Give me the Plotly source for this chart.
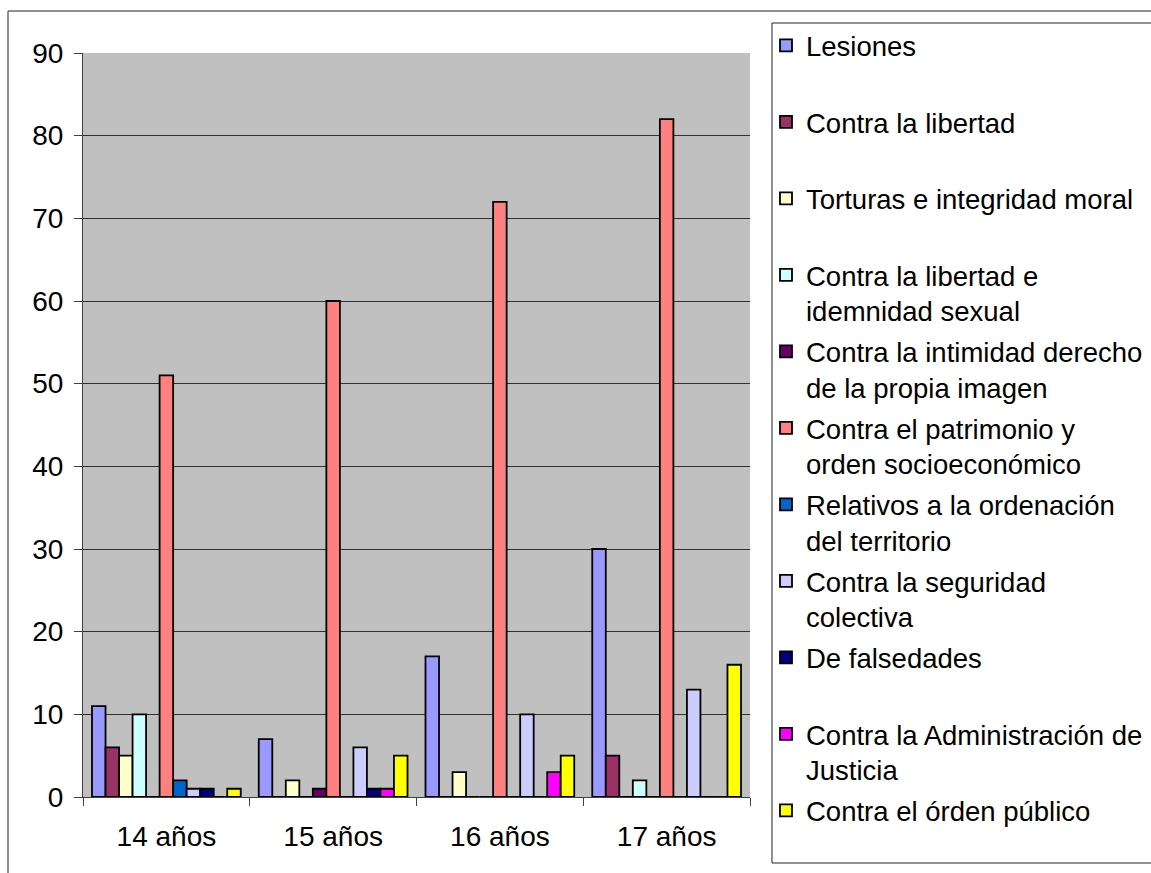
import plotly.graph_objects as go

categories = ["14 años", "15 años", "16 años", "17 años"]

series_names = [
    "Lesiones<br> ",
    "Contra la libertad<br> ",
    "Torturas e integridad moral<br> ",
    "Contra la libertad e<br>idemnidad sexual",
    "Contra la intimidad derecho<br>de la propia imagen",
    "Contra el patrimonio y<br>orden socioeconómico",
    "Relativos a la ordenación<br>del territorio",
    "Contra la seguridad<br>colectiva",
    "De falsedades<br> ",
    "Contra la Administración de<br>Justicia",
    "Contra el órden público<br> ",
]

lesiones = [11, 7, 17, 30]
contra_libertad = [6, 0, 0, 5]
torturas = [5, 2, 3, 0]
libertad_sexual = [10, 0, 0, 2]
intimidad = [0, 1, 0, 0]
patrimonio = [51, 60, 72, 82]
ordenacion_territorio = [2, 0, 0, 0]
seguridad_colectiva = [1, 6, 10, 13]
falsedades = [1, 1, 0, 0]
administracion_justicia = [0, 1, 3, 0]
orden_publico = [1, 5, 5, 16]

series_values = [
    lesiones, contra_libertad, torturas, libertad_sexual, intimidad,
    patrimonio, ordenacion_territorio, seguridad_colectiva, falsedades,
    administracion_justicia, orden_publico,
]

colors = [
    "#9999FF", "#993366", "#FFFFCC", "#CCFFFF", "#660066",
    "#FF8080", "#0066CC", "#CCCCFF", "#000080", "#FF00FF", "#FFFF00",
]

FONT = "Arial, 'Liberation Sans', sans-serif"
FS = 28
LFS = 27.5

fig = go.Figure()
for i, (name, vals, col) in enumerate(zip(series_names, series_values, colors)):
    fig.add_trace(go.Bar(
        x=categories, y=vals, name=name,
        marker=dict(color=col, line=dict(color="#000000", width=1.8)),
        legendgroup=f"g{i}",
    ))

W, H = 1151, 873
L, R, T, B = 83, 401, 53, 76
pw, ph = W - L - R, H - T - B

def px_x(px):
    return (px - L) / pw

def px_y(py):
    return (H - B - py) / ph

def pt(xp, yp):
    return f"{px_x(xp):.5f},{px_y(yp):.5f}"

# outer frame: left, top (and off-screen right/bottom)
frame_path = f"M{pt(8, 900)} L{pt(8, 11)} L{pt(1300, 11)}"
# legend box: open on the right (it runs past the picture edge)
legend_path = f"M{pt(1300, 23)} L{pt(772, 23)} L{pt(772, 863)} L{pt(1300, 863)}"

fig.update_layout(
    width=W, height=H,
    margin=dict(l=L, r=R, t=T, b=B, autoexpand=False),
    paper_bgcolor="white",
    plot_bgcolor="#C0C0C0",
    barmode="group",
    bargap=0.108,
    bargroupgap=0,
    font=dict(family=FONT, size=FS, color="#000000"),
    showlegend=True,
    legend=dict(
        x=px_x(766), y=px_y(21), xanchor="left", yanchor="top",
        bgcolor="rgba(0,0,0,0)", borderwidth=0,
        font=dict(family=FONT, size=LFS, color="#000000"),
        tracegroupgap=2, valign="top", traceorder="grouped",
        maxheight=860,
    ),
    xaxis=dict(
        showgrid=False, tickson="boundaries", ticks="outside", ticklen=8,
        tickcolor="#404040", showline=True, linecolor="#404040", linewidth=1,
        tickfont=dict(size=FS), ticklabelstandoff=14,
    ),
    yaxis=dict(
        range=[0, 90], dtick=10, tick0=0, showgrid=True, gridcolor="#303030",
        gridwidth=1, ticks="outside", ticklen=8, tickcolor="#404040",
        showline=True, linecolor="#404040", linewidth=1, zeroline=False,
        tickfont=dict(size=FS), ticklabelstandoff=5,
    ),
    shapes=[
        dict(type="path", xref="paper", yref="paper", path=frame_path,
             line=dict(color="#222222", width=1), layer="below"),
        dict(type="path", xref="paper", yref="paper", path=legend_path,
             line=dict(color="#222222", width=1), layer="above"),
    ],
)

fig.write_html("out.html", config={"displayModeBar": False},
               post_script="document.body.style.margin='0px';")
